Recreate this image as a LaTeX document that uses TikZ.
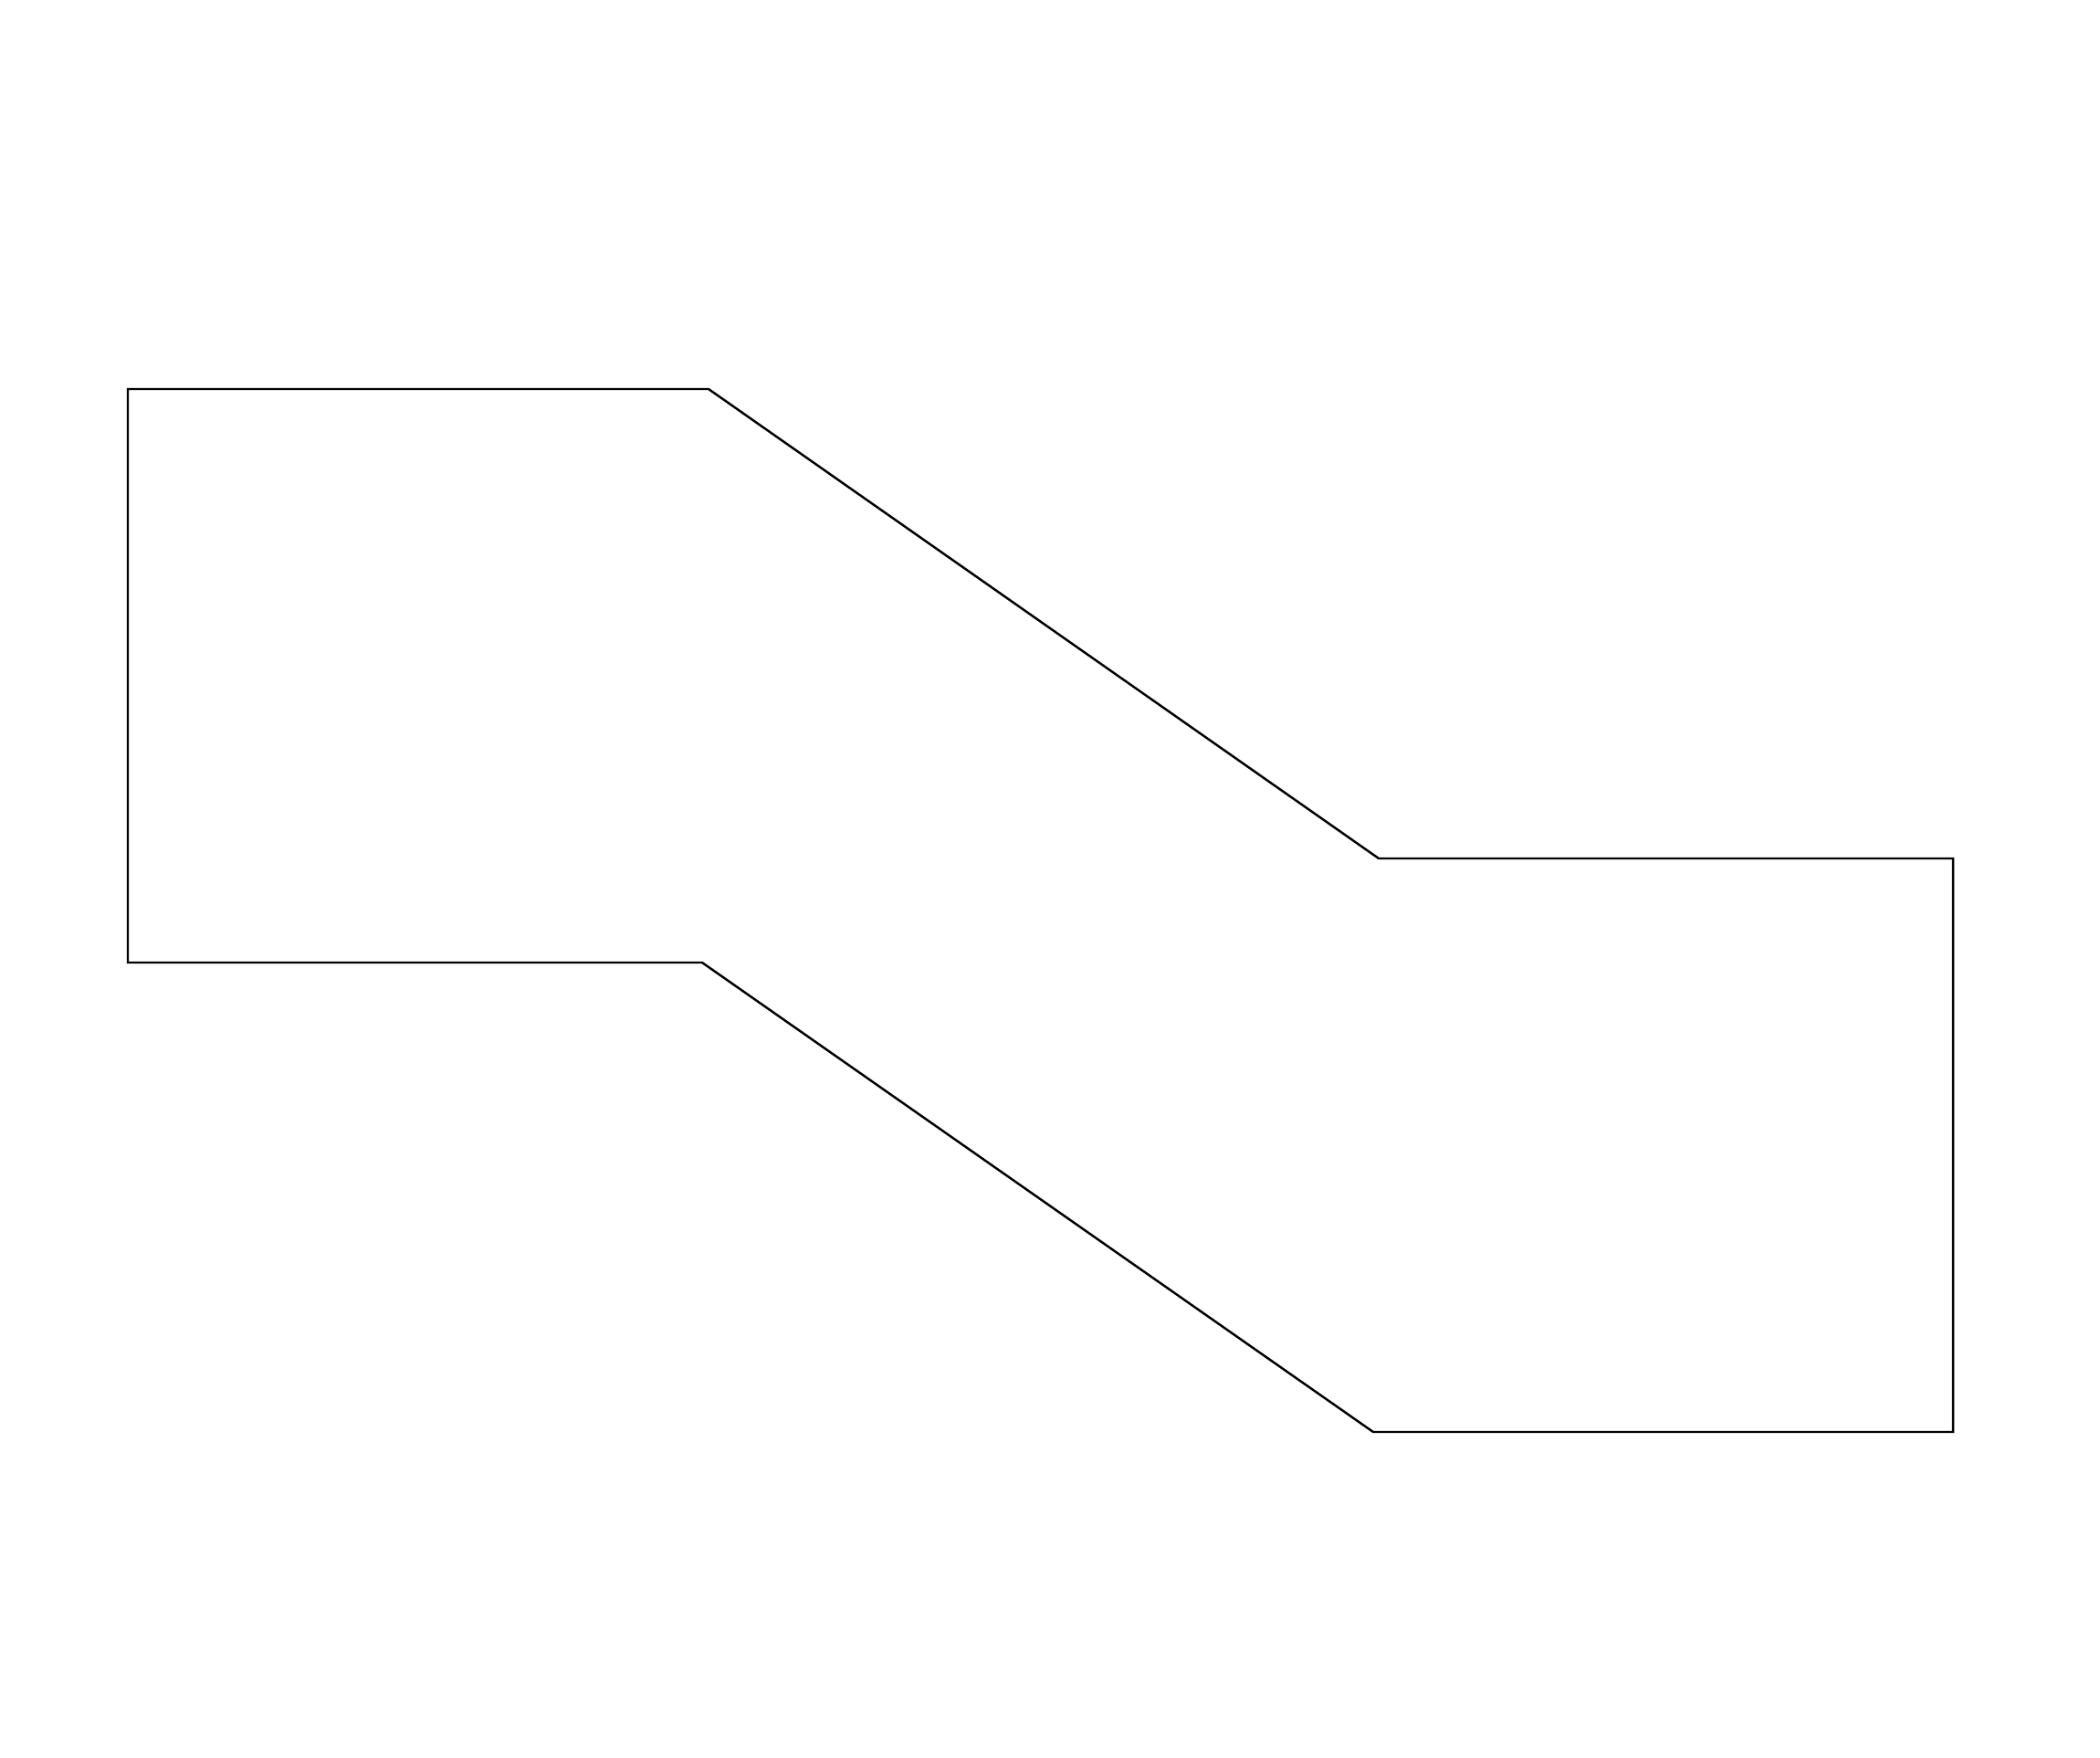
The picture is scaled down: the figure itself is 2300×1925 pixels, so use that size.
\documentclass[tikz,border=0pt]{standalone}
\usepackage{tikz}

\begin{document}
\begin{tikzpicture}[x=0.01cm,y=-0.01cm,line width=0.7pt]
    \useasboundingbox (0,0) rectangle (2300,1925);
    %Left end
    \coordinate (TL) at (140,426);
    \coordinate (BL) at (140,1054);
    %Bends
    \coordinate (T1) at (776,426);
    \coordinate (B1) at (769,1054);
    \coordinate (T2) at (1510,940);
    \coordinate (B2) at (1504,1568);
    %Right end
    \coordinate (TR) at (2139,940);
    \coordinate (BR) at (2139,1568);
    %Outline
    \draw[line join=miter] (TL) -- (T1) -- (T2) -- (TR) -- (BR) -- (B2) -- (B1) -- (BL) -- cycle;
\end{tikzpicture}
\end{document}
